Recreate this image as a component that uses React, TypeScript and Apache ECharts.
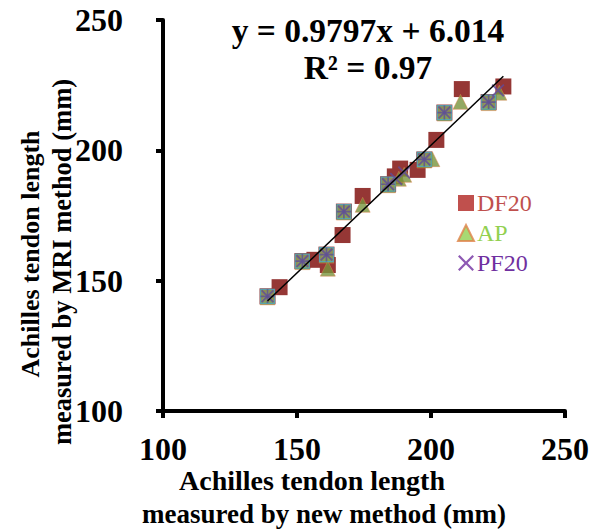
import React, { useEffect, useRef } from "react";
import * as echarts from "echarts";

const xTicks = [100, 150, 200, 250];
const yTicks = [100, 150, 200, 250];

const df20: [number, number][] = [
  [139, 144], [143.5, 147.5], [152, 157.5], [156.5, 158], [161, 160], [161.5, 156],
  [167, 167.5], [167.5, 176.5], [174.5, 182.5], [184, 187], [186.5, 190], [188.5, 193],
  [195, 192.5], [197.5, 196.5], [202, 204], [205, 214.5], [211.5, 223.5], [221.5, 218.5],
  [227, 224.5],
];
const ap: [number, number][] = [
  [139, 144], [152, 157.5], [161, 160], [161.5, 155], [167.5, 176.5], [174.5, 179.5],
  [184, 187], [188, 189.5], [190, 191], [197.5, 196.5], [200.5, 197], [205, 214.5],
  [211, 219], [221.5, 218.5], [225.5, 222.5],
];
const pf20: [number, number][] = [
  [139, 144], [152, 157.5], [161, 160], [167.5, 176.5], [184, 187], [187, 189],
  [190, 191.5], [197.5, 196.5], [205, 214.5], [221.5, 218.5], [225, 223],
];
const overlap: [number, number][] = [
  [139, 144], [152, 157.5], [161, 160], [167.5, 176.5], [184, 187], [197.5, 196.5],
  [205, 214.5], [221.5, 218.5],
];
const slope = 0.9797;
const intercept = 6.014;
const eqText = "y = 0.9797x + 6.014";
const r2Text = "R² = 0.97";

const FONT = '"Liberation Serif", "Times New Roman", serif';
const xPath = "path://M0,1L1,0L5,4L9,0L10,1L6,5L10,9L9,10L5,6L1,10L0,9L4,5Z";
const plusPath = "path://M4.4,0H5.6V4.4H10V5.6H5.6V10H4.4V5.6H0V4.4H4.4Z";

export default function App() {
  const ref = useRef<HTMLDivElement>(null);
  useEffect(() => {
    if (!ref.current) return;
    const chart = echarts.init(ref.current, null, { renderer: "svg" });
    const allX = [...df20, ...ap, ...pf20].map((p) => p[0]);
    const x0 = Math.min(...allX);
    const x1 = Math.max(...allX);
    const trend = [
      [x0, slope * x0 + intercept],
      [x1, slope * x1 + intercept],
    ];
    const axisCommon = {
      min: 100,
      max: 250,
      interval: 50,
      splitLine: { show: false },
      axisLine: { show: true, lineStyle: { color: "#000", width: 4 } },
      axisTick: { show: true, length: 7, lineStyle: { color: "#000", width: 4 } },
    };
    const t = (text: string, x: number, y: number, size: number, rot = 0) => ({
      type: "text",
      x,
      y,
      rotation: rot,
      style: { text, font: `bold ${size}px ${FONT}`, fill: "#000", align: "center", verticalAlign: "middle" },
    });
    chart.setOption({
      animation: false,
      backgroundColor: "#fff",
      grid: { left: 163, right: 41, top: 20, bottom: 121 },
      xAxis: {
        type: "value",
        ...axisCommon,
        axisLabel: {
          margin: 22,
          fontFamily: FONT,
          fontWeight: "bold",
          fontSize: 32,
          color: "#000",
          customValues: xTicks,
        },
      },
      yAxis: {
        type: "value",
        ...axisCommon,
        axisLabel: {
          margin: 40,
          fontFamily: FONT,
          fontWeight: "bold",
          fontSize: 32,
          color: "#000",
          customValues: yTicks,
        },
      },
      legend: {
        orient: "vertical",
        left: 452,
        top: 186,
        itemWidth: 16,
        itemHeight: 16,
        itemGap: 6,
        textStyle: { fontFamily: FONT, fontSize: 24, lineHeight: 24, padding: [0, 0, 0, -2] },
        data: [
          { name: "DF20", icon: "rect", itemStyle: { color: "#C0504D" }, textStyle: { color: "#C0504D" } },
          { name: "AP", icon: "triangle", itemStyle: { color: "#92D050" }, textStyle: { color: "#92D050" } },
          { name: "PF20", icon: xPath, itemStyle: { color: "#7030A0" }, textStyle: { color: "#7030A0" } },
        ],
      },
      graphic: [
        t(eqText, 368, 30, 33.5),
        t(r2Text, 368, 67, 33.5),
        t("Achilles tendon length", 312, 480, 28),
        t("measured by new method (mm)", 324, 514, 27),
        t("Achilles tendon length", 30, 254, 26, Math.PI / 2),
        t("measured by MRI method (mm)", 62, 262, 26.5, Math.PI / 2),
      ],
      series: [
        {
          name: "DF20",
          type: "scatter",
          data: df20,
          symbol: "rect",
          symbolSize: 16,
          itemStyle: { color: "#953735", opacity: 1 },
          z: 2,
        },
        {
          name: "AP",
          type: "scatter",
          data: ap,
          symbol: "triangle",
          symbolSize: [15, 15],
          symbolOffset: [0, 1],
          itemStyle: { color: "#77933C", borderColor: "#E0824A", borderWidth: 0.6 },
          z: 3,
        },
        {
          name: "overlapSq",
          type: "scatter",
          data: overlap,
          symbol: "rect",
          symbolSize: 14,
          itemStyle: { color: "#8AA55E", borderColor: "#4BACC6", borderWidth: 1.2 },
          z: 4,
          silent: true,
        },
        {
          name: "PF20",
          type: "scatter",
          data: pf20,
          symbol: xPath,
          symbolSize: 13,
          itemStyle: { color: "#604A9B" },
          z: 5,
        },
        {
          name: "overlapPlus",
          type: "scatter",
          data: overlap,
          symbol: plusPath,
          symbolSize: 14,
          itemStyle: { color: "#5E4E96" },
          z: 5,
          silent: true,
        },
        {
          name: "trend",
          type: "line",
          data: trend,
          symbol: "none",
          lineStyle: { color: "#000", width: 1.5 },
          z: 6,
          silent: true,
        },
      ],
    });
    return () => chart.dispose();
  }, []);
  return <div ref={ref} style={{ width: 606, height: 532, position: "absolute", left: 0, top: 0 }} />;
}
